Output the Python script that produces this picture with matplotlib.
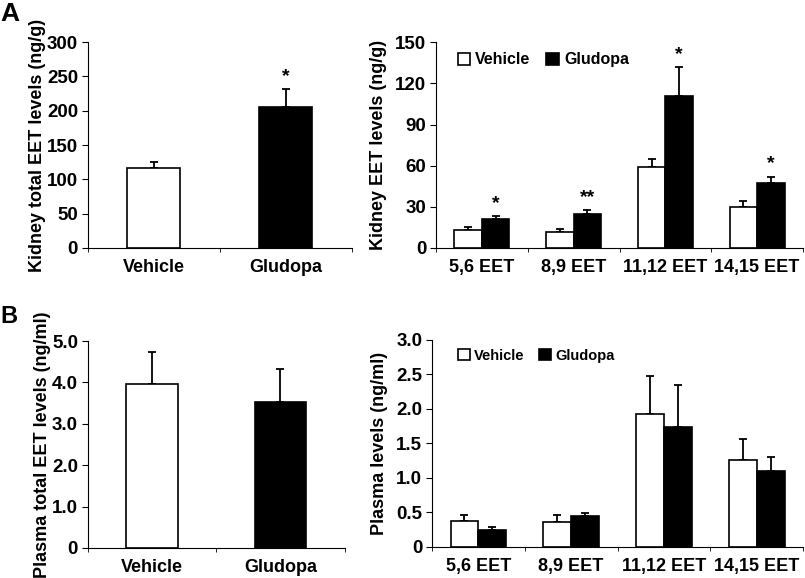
import matplotlib
matplotlib.use("Agg")
import matplotlib.pyplot as plt
import numpy as np

plt.rcParams["font.family"] = ["Liberation Sans", "DejaVu Sans"]
plt.rcParams["font.weight"] = "bold"

# data
groups = ["Vehicle", "Gludopa"]
eets = ["5,6 EET", "8,9 EET", "11,12 EET", "14,15 EET"]

kidney_total = [116, 205]
kidney_total_err = [10, 27]

kidney_veh = [13, 12, 59, 30]
kidney_veh_err = [2, 2, 5.5, 4.5]
kidney_glu = [21, 25, 111, 47.5]
kidney_glu_err = [2.5, 2.5, 21, 4.5]
kidney_stars = ["*", "**", "*", "*"]

plasma_total = [3.95, 3.53]
plasma_total_err = [0.78, 0.79]

plasma_veh = [0.38, 0.36, 1.92, 1.26]
plasma_veh_err = [0.08, 0.10, 0.55, 0.30]
plasma_glu = [0.24, 0.45, 1.74, 1.10]
plasma_glu_err = [0.04, 0.04, 0.61, 0.20]

fig = plt.figure(figsize=(8.05, 5.78), dpi=100)
ax1 = fig.add_axes([0.109, 0.571, 0.328, 0.356])
ax2 = fig.add_axes([0.5416, 0.571, 0.456, 0.356])
ax3 = fig.add_axes([0.109, 0.052, 0.319, 0.358])
ax4 = fig.add_axes([0.5366, 0.054, 0.461, 0.358])


def style(ax, n, labels):
    ax.spines["top"].set_visible(False)
    ax.spines["right"].set_visible(False)
    ax.set_xlim(-0.5, n - 0.5)
    ax.set_xticks(np.arange(n))
    ax.set_xticklabels(labels, fontsize=13, fontweight="bold")
    ax.tick_params(axis="x", length=0, pad=8)
    ax.set_xticks(np.arange(n + 1) - 0.5, minor=True)
    ax.tick_params(axis="x", which="minor", length=3, direction="out")
    ax.tick_params(axis="y", length=4, direction="out", labelsize=13.5, pad=3)
    for t in ax.get_yticklabels():
        t.set_fontweight("bold")


def total_panel(ax, vals, errs, ylim, ticks, ticklabels, ylabel):
    x = np.arange(len(groups))
    ax.bar(x, vals, width=0.4, color=["white", "black"], edgecolor="black",
           linewidth=1.2, zorder=2)
    ax.errorbar(x, vals, yerr=[np.zeros(len(vals)), errs], fmt="none",
                ecolor="black", elinewidth=1.3, capsize=3, capthick=1.3, zorder=1)
    ax.set_ylim(*ylim)
    ax.set_yticks(ticks)
    ax.set_yticklabels(ticklabels)
    ax.set_ylabel(ylabel, fontsize=13, fontweight="bold", labelpad=1)
    style(ax, len(groups), groups)


def eet_panel(ax, veh, veh_err, glu, glu_err, ylim, ticks, ticklabels, ylabel, legsize, legx):
    x = np.arange(len(eets))
    w = 0.3
    b1 = ax.bar(x - w / 2, veh, width=w, color="white", edgecolor="black",
                linewidth=1.2, zorder=2, label="Vehicle")
    b2 = ax.bar(x + w / 2, glu, width=w, color="black", edgecolor="black",
                linewidth=1.2, zorder=2, label="Gludopa")
    ax.errorbar(x - w / 2, veh, yerr=[np.zeros(len(veh)), veh_err], fmt="none",
                ecolor="black", elinewidth=1.3, capsize=3, capthick=1.3, zorder=1)
    ax.errorbar(x + w / 2, glu, yerr=[np.zeros(len(glu)), glu_err], fmt="none",
                ecolor="black", elinewidth=1.3, capsize=3, capthick=1.3, zorder=1)
    ax.set_ylim(*ylim)
    ax.set_yticks(ticks)
    ax.set_yticklabels(ticklabels)
    ax.set_ylabel(ylabel, fontsize=13, fontweight="bold", labelpad=6)
    style(ax, len(eets), eets)
    ax.legend(handles=[b1, b2], loc="upper left", ncol=2, frameon=False,
              prop={"weight": "bold", "size": legsize}, handlelength=0.8,
              handleheight=0.8, handletextpad=0.3, columnspacing=1.0,
              bbox_to_anchor=(legx, 1.02))
    return x + w / 2, np.array(glu) + np.array(glu_err)


total_panel(ax1, kidney_total, kidney_total_err, (0, 300),
            [0, 50, 100, 150, 200, 250, 300],
            ["0", "50", "100", "150", "200", "250", "300"],
            "Kidney total EET levels (ng/g)")
ax1.text(1, kidney_total[1] + kidney_total_err[1] + 6, "*", ha="center",
         va="bottom", fontsize=14, fontweight="bold")

xs, tops = eet_panel(ax2, kidney_veh, kidney_veh_err, kidney_glu, kidney_glu_err,
                     (0, 150), [0, 30, 60, 90, 120, 150],
                     ["0", "30", "60", "90", "120", "150"],
                     "Kidney EET levels (ng/g)", 11.5, 0.02)
for xi, ti, s in zip(xs, tops, kidney_stars):
    ax2.text(xi, ti + 3, s, ha="center", va="bottom", fontsize=14,
             fontweight="bold")

total_panel(ax3, plasma_total, plasma_total_err, (0, 5),
            [0, 1, 2, 3, 4, 5],
            ["0", "1.0", "2.0", "3.0", "4.0", "5.0"],
            "Plasma total EET levels (ng/ml)")

eet_panel(ax4, plasma_veh, plasma_veh_err, plasma_glu, plasma_glu_err,
          (0, 3), [0, 0.5, 1, 1.5, 2, 2.5, 3],
          ["0", "0.5", "1.0", "1.5", "2.0", "2.5", "3.0"],
          "Plasma levels (ng/ml)", 10.5, 0.035)

fig.text(0.0, 0.975, "A", fontsize=19, fontweight="bold", va="center")
fig.text(0.0, 0.452, "B", fontsize=17, fontweight="bold", va="center")

fig.savefig("out.png", dpi=100)
